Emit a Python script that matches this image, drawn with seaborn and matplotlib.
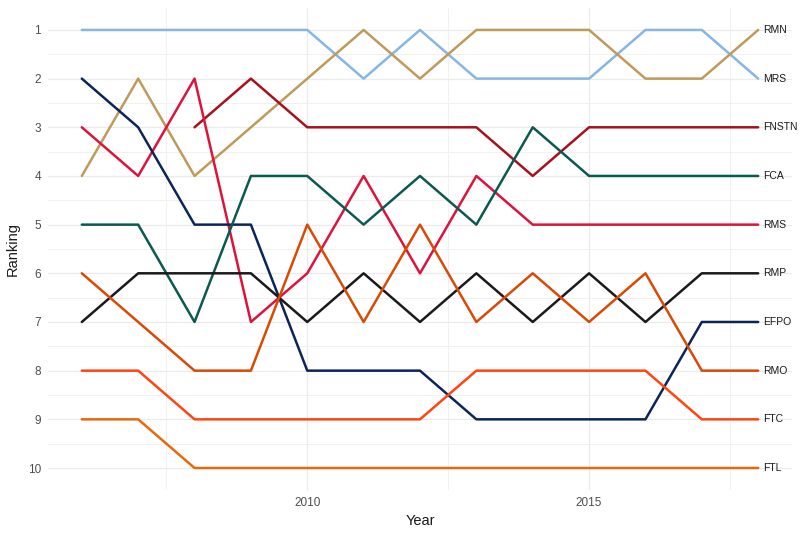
import numpy as np
import pandas as pd
import matplotlib
matplotlib.use("Agg")
import matplotlib.pyplot as plt
import seaborn as sns

years = list(range(2006, 2019))
MRS   = [1, 1, 1, 1, 1, 2, 1, 2, 2, 2, 1, 1, 2]
RMN   = [4, 2, 4, 3, 2, 1, 2, 1, 1, 1, 2, 2, 1]
FNSTN = [np.nan, np.nan, 3, 2, 3, 3, 3, 3, 4, 3, 3, 3, 3]
RMS   = [3, 4, 2, 7, 6, 4, 6, 4, 5, 5, 5, 5, 5]
EFPO  = [2, 3, 5, 5, 8, 8, 8, 9, 9, 9, 9, 7, 7]
FCA   = [5, 5, 7, 4, 4, 5, 4, 5, 3, 4, 4, 4, 4]
RMP   = [7, 6, 6, 6, 7, 6, 7, 6, 7, 6, 7, 6, 6]
RMO   = [6, 7, 8, 8, 5, 7, 5, 7, 6, 7, 6, 8, 8]
FTC   = [8, 8, 9, 9, 9, 9, 9, 8, 8, 8, 8, 9, 9]
FTL   = [9, 9, 10, 10, 10, 10, 10, 10, 10, 10, 10, 10, 10]

series = {"MRS": MRS, "RMN": RMN, "FNSTN": FNSTN, "RMS": RMS, "EFPO": EFPO,
          "FCA": FCA, "RMP": RMP, "RMO": RMO, "FTC": FTC, "FTL": FTL}
colors = {"MRS": "#85B6E4", "RMN": "#C09A5B", "FNSTN": "#A8101E", "RMS": "#DC143C",
          "EFPO": "#0C2558", "FCA": "#0B5950", "RMP": "#1A1A1A", "RMO": "#D84A05",
          "FTC": "#FF4511", "FTL": "#E8690C"}

rows = []
for name, vals in series.items():
    for y, v in zip(years, vals):
        rows.append({"Year": y, "Ranking": v, "Team": name})
df = pd.DataFrame(rows).dropna()

sns.set_theme(style="whitegrid")
plt.rcParams['font.family'] = ['Liberation Sans', 'DejaVu Sans']

fig = plt.figure(figsize=(8, 5.36), dpi=100)
ax = fig.add_axes([0.06, 0.086, 0.93, 0.899])

sns.lineplot(data=df, x="Year", y="Ranking", hue="Team", palette=colors,
             linewidth=1.8, legend=False, ax=ax, estimator=None, sort=True)

for name, vals in series.items():
    ax.text(years[-1] + 0.08, vals[-1], name, fontsize=7.5, color="#1A1A1A",
            va="center", ha="left")

ax.set_xlim(2005.4, 2018.6)
ax.set_ylim(10.45, 0.55)
ax.set_yticks(range(1, 11))
ax.set_xticks([2010, 2015])
ax.set_xticks([2007.5, 2012.5, 2017.5], minor=True)
ax.set_yticks(np.arange(1.5, 10.5, 1), minor=True)
ax.grid(which="major", color="#EBEBEB", linewidth=0.9)
ax.grid(which="minor", color="#F1F1F1", linewidth=0.7)
ax.set_facecolor("white")
for s in ax.spines.values():
    s.set_visible(False)
ax.tick_params(axis="both", which="both", length=0, labelsize=8.5, labelcolor="#4D4D4D", pad=5)
ax.set_xlabel("Year", fontsize=10.5, color="#1A1A1A", labelpad=4)
ax.set_ylabel("Ranking", fontsize=10.5, color="#1A1A1A", labelpad=6)

fig.savefig("out.png", dpi=100)
